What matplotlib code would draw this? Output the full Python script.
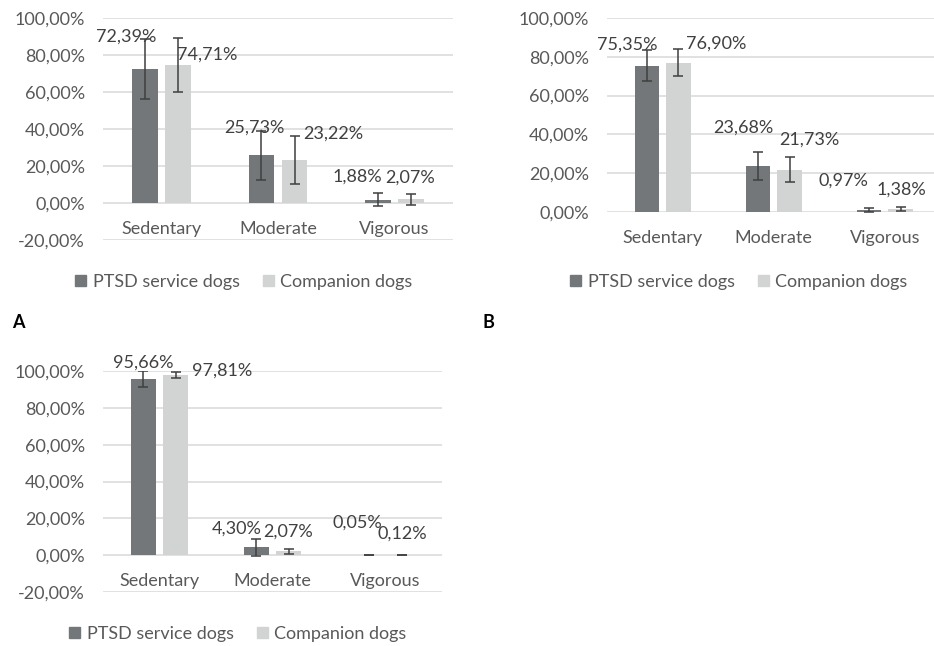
import matplotlib
matplotlib.use('Agg')
import matplotlib.pyplot as plt
from matplotlib.ticker import FuncFormatter, MultipleLocator
from matplotlib.patches import Patch
import numpy as np

plt.rcParams['font.family'] = ['Lato', 'DejaVu Sans']

categories = ['Sedentary', 'Moderate', 'Vigorous']
series_names = ['PTSD service dogs', 'Companion dogs']

# panel A
a_service = [72.39, 25.73, 1.88]
a_companion = [74.71, 23.22, 2.07]
a_service_err = [16.2, 13.4, 3.7]
a_companion_err = [14.6, 12.8, 3.0]

# panel B
b_service = [75.35, 23.68, 0.97]
b_companion = [76.90, 21.73, 1.38]
b_service_err = [8.0, 7.3, 0.9]
b_companion_err = [7.0, 6.4, 1.1]

# panel C
c_service = [95.66, 4.30, 0.05]
c_companion = [97.81, 2.07, 0.12]
c_service_err = [4.4, 4.5, 0.1]
c_companion_err = [1.4, 1.5, 0.1]

# where the value labels sit (data coords), service then companion
a_label_pos = [[(-0.30, 89.7), (0.80, 40.5), (1.68, 14.1)],
               [(0.39, 80.0), (1.47, 37.3), (2.13, 13.5)]]
b_label_pos = [[(-0.32, 86.2), (0.725, 43.6), (1.63, 16.4)],
               [(0.48, 86.7), (1.32, 37.4), (2.15, 11.3)]]
c_label_pos = [[(-0.146, 104.3), (0.686, 14.6), (1.748, 17.8)],
               [(0.553, 100.0), (1.137, 13.0), (2.146, 11.9)]]

DARK = '#737779'
LIGHT = '#D2D4D3'
GRID = '#D9D9D9'
TICK_TXT = '#595959'
LABEL_TXT = '#404040'
FS = 13
W, H = 934, 646


def pct(v, pos=None):
    return ('%.2f%%' % v).replace('.', ',')


def panel(rect, service, companion, s_err, c_err, label_pos, ymin):
    x0, y_top, x1, y_bot = rect
    ax = fig.add_axes([x0 / W, 1 - y_bot / H, (x1 - x0) / W, (y_bot - y_top) / H])
    x = np.arange(len(categories))
    bw, off = 0.22, 0.142
    ax.bar(x - off, service, bw, color=DARK, zorder=2)
    ax.bar(x + off, companion, bw, color=LIGHT, zorder=2)
    ekw = dict(fmt='none', ecolor='#3F3F3F', elinewidth=1.1, capsize=3.5,
               capthick=1.1, zorder=3)
    ax.errorbar(x - off, service, yerr=s_err, **ekw)
    ax.errorbar(x + off, companion, yerr=c_err, **ekw)

    for vals, positions in zip([service, companion], label_pos):
        for v, (lx, ly) in zip(vals, positions):
            ax.text(lx, ly, pct(v), ha='center', va='center', fontsize=FS,
                    color=LABEL_TXT, zorder=4)

    ax.set_xlim(-0.5, len(categories) - 0.5)
    ax.set_ylim(ymin, 100)
    ax.yaxis.set_major_locator(MultipleLocator(20))
    ax.yaxis.set_major_formatter(FuncFormatter(pct))
    ax.grid(axis='y', color=GRID, linewidth=1.1, zorder=0)
    for s in ax.spines.values():
        s.set_visible(False)
    ax.spines['bottom'].set_position(('data', 0))
    ax.set_xticks(x)
    ax.set_xticklabels(categories)
    ax.tick_params(axis='x', length=0, pad=13, labelsize=FS, labelcolor=TICK_TXT)
    ax.tick_params(axis='y', length=0, pad=13, labelsize=FS, labelcolor=TICK_TXT)
    return ax


fig = plt.figure(figsize=(W / 100, H / 100), dpi=100)

panel((103, 18, 453, 240), a_service, a_companion, a_service_err,
      a_companion_err, a_label_pos, -20)
panel((607, 18, 940.5, 212), b_service, b_companion, b_service_err,
      b_companion_err, b_label_pos, 0)
panel((103, 371, 442, 592), c_service, c_companion, c_service_err,
      c_companion_err, c_label_pos, -20)

handles = [Patch(color=DARK), Patch(color=LIGHT)]
for cx, cy in [(244, 282), (739, 282), (238, 634)]:
    fig.legend(handles, series_names, loc='center', ncol=2, frameon=False,
               bbox_to_anchor=(cx / W, 1 - cy / H), fontsize=FS,
               labelcolor=TICK_TXT, handlelength=0.6, handleheight=0.6,
               handletextpad=0.35, columnspacing=1.3)

fig.text(12 / W, 1 - 322 / H, 'A', fontsize=13, fontweight='bold', va='center')
fig.text(483 / W, 1 - 322 / H, 'B', fontsize=13, fontweight='bold', va='center')

fig.savefig('out.png', dpi=100)
